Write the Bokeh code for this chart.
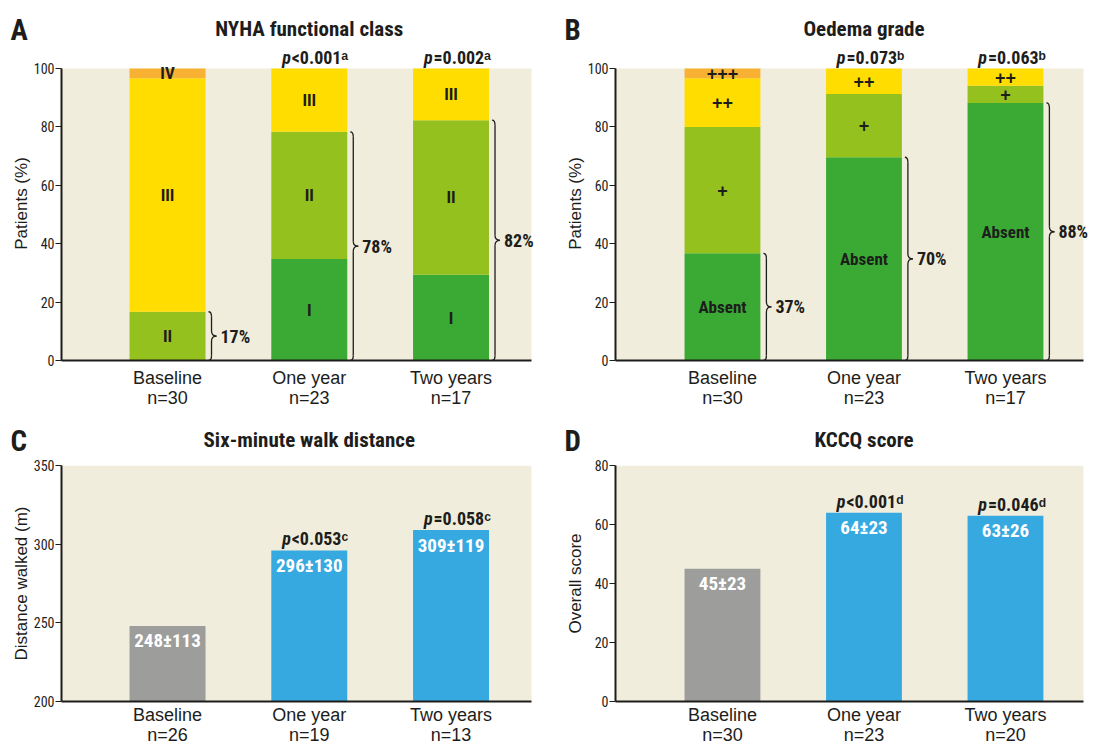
from bokeh.plotting import figure
from bokeh.layouts import column, row
from bokeh.models import ColumnDataSource, FixedTicker, Range1d
from bokeh.embed import file_html
from bokeh.resources import INLINE
from bokeh.core.properties import value

# ---------------- data ----------------
categories = ["Baseline", "One year", "Two years"]

nyha_n = [30, 23, 17]
nyha_I = [0.0, 34.8, 29.4]
nyha_II = [16.7, 43.5, 52.9]
nyha_III = [80.0, 21.7, 17.7]
nyha_IV = [3.3, 0.0, 0.0]
nyha_classes = ["I", "II", "III", "IV"]
nyha_p_sign = ["", "<", "="]
nyha_p_val = ["", "0.001", "0.002"]
nyha_p_note = ["", "\u1d43", "\u1d43"]          # superscript a

oedema_n = [30, 23, 17]
oed_absent = [36.7, 69.6, 88.2]
oed_plus1 = [43.3, 21.7, 5.9]
oed_plus2 = [16.7, 8.7, 5.9]
oed_plus3 = [3.3, 0.0, 0.0]
oedema_grades = ["Absent", "+", "++", "+++"]
oedema_p_sign = ["", "=", "="]
oedema_p_val = ["", "0.073", "0.063"]
oedema_p_note = ["", "\u1d47", "\u1d47"]        # superscript b

walk_n = [26, 19, 13]
walk_mean = [248, 296, 309]
walk_sd = [113, 130, 119]
walk_p_sign = ["", "<", "="]
walk_p_val = ["", "0.053", "0.058"]
walk_p_note = ["", "\u1d9c", "\u1d9c"]          # superscript c

kccq_n = [30, 23, 20]
kccq_mean = [45, 64, 63]
kccq_sd = [23, 23, 26]
kccq_p_sign = ["", "<", "="]
kccq_p_val = ["", "0.001", "0.046"]
kccq_p_note = ["", "\u1d48", "\u1d48"]          # superscript d

# ---------------- style ----------------
COND = "Roboto Condensed, Liberation Sans"
REG = "Liberation Sans"
INK = "#1d1d1b"
BG = "#f1eddc"
C_ORANGE = "#f8b133"
C_YELLOW = "#ffdd00"
C_LGREEN = "#95c11f"
C_DGREEN = "#3aaa35"
C_GRAY = "#9d9d9c"
C_BLUE = "#36a9e1"

X = [1, 2, 3]
BAR_W = 0.536

# ---------------- geometry (page pixels) ----------------
OX, OY = 2, 1
H_HEAD1, H_TOP, H_HEAD2, H_BOT = 46, 366, 45, 290
TOP_BT, TOP_BB = 0, 52
BOT_BT, BOT_BB = 8, 46
LEFT = dict(W=548, bl=61, ppx=141.75, x0=0.252, bgw=470)
RIGHT = dict(W=542, bl=67, ppx=141.5, x0=0.244, bgw=468)
TOP_DATA_PX = 292   # pixels for the 0-100 data area in top panels


def panel(geo, H, bt, bb, y0, ytop, yticks, ylabel, extra_top_px, lab_standoff):
    fw = geo["W"] - geo["bl"]
    fh = H - bt - bb
    ppx = geo["ppx"]
    ppy = (fh - extra_top_px) / (ytop - y0)
    xr = (geo["x0"], geo["x0"] + fw / ppx)
    yr = (y0, y0 + fh / ppy)
    bg_end = geo["x0"] + geo["bgw"] / ppx
    p = figure(width=geo["W"], height=H, x_range=Range1d(*xr), y_range=Range1d(*yr),
               output_backend="svg", toolbar_location=None,
               min_border_left=geo["bl"], min_border_right=0,
               min_border_top=bt, min_border_bottom=bb)
    p.background_fill_color = "white"
    p.border_fill_color = "white"
    p.outline_line_color = None
    p.xgrid.visible = False
    p.ygrid.visible = False
    p.quad(left=[xr[0]], right=[bg_end], bottom=[y0], top=[ytop], fill_color=BG,
           line_color=None)

    xa = p.xaxis[0]
    xa.ticker = FixedTicker(ticks=X)
    xa.bounds = (xr[0], bg_end)
    xa.major_tick_out = 0
    xa.major_tick_in = 0
    xa.minor_tick_out = 0
    xa.minor_tick_in = 0
    xa.axis_line_width = 2
    xa.axis_line_color = INK
    xa.major_label_text_font = REG
    xa.major_label_text_font_size = "18px"
    xa.major_label_text_color = INK
    xa.major_label_text_line_height = 1.0
    xa.major_label_standoff = lab_standoff

    ya = p.yaxis[0]
    ya.ticker = FixedTicker(ticks=yticks)
    ya.bounds = (y0, ytop)
    ya.major_tick_out = 6
    ya.major_tick_in = 0
    ya.minor_tick_out = 0
    ya.minor_tick_in = 0
    ya.axis_line_width = 2
    ya.axis_line_color = INK
    ya.major_tick_line_color = INK
    ya.major_tick_line_width = 1
    ya.major_label_text_font = COND
    ya.major_label_text_font_size = "14px"
    ya.major_label_text_color = INK
    ya.major_label_standoff = 1
    ya.axis_label = ylabel
    ya.axis_label_text_font = REG
    ya.axis_label_text_font_size = "17px"
    ya.axis_label_text_font_style = "normal"
    ya.axis_label_text_color = INK
    longest = max(len(str(t)) for t in yticks)
    ya.axis_label_standoff = max(0, int(round(28 - 7 - longest * 0.51 * 14)))

    p._ppx, p._ppy, p._xr, p._y0 = ppx, ppy, xr, y0
    return p


def set_xlabels(p, n):
    p.xaxis[0].major_label_overrides = {x: f"{c}\nn={k}" for x, c, k in zip(X, categories, n)}


def txt(p, xs, ys, ts, size, style="bold", color=INK, align="center", baseline="middle",
        font=COND):
    p.text(x=xs, y=ys, text=ts, text_font=value(font), text_font_style=style,
           text_font_size=value(size), text_color=color, text_align=align,
           text_baseline=baseline)


def pvalue(p, xc, ytop, sign, val, note):
    if not val:
        return
    split = -18.0                       # px from bar centre where "p" ends
    yc = ytop + 11.5 / p._ppy           # cap centre above the bar top
    txt(p, [xc + (split - 0.5) / p._ppx], [yc], ["p"], "18px", "bold italic", align="right")
    txt(p, [xc + (split + 0.5) / p._ppx], [yc], [sign + val + note], "18px", "bold",
        align="left")


def brace(p, xc, bottom, top, label):
    ppx, ppy = p._ppx, p._ppy
    x0 = xc + BAR_W / 2 + 3 / ppx
    w = 3 / ppx
    tip = 8 / ppx
    h = 5 / ppy
    m = (bottom + top) / 2
    q = dict(x0=[x0, x0 + w, x0 + tip, x0 + w],
             y0=[top, m + h, m, bottom + h],
             x1=[x0 + w, x0 + tip, x0 + w, x0],
             y1=[top - h, m, m - h, bottom],
             cx=[x0 + w] * 4,
             cy=[top, m, m, bottom])
    p.quadratic(source=ColumnDataSource(q), x0="x0", y0="y0", x1="x1", y1="y1",
                cx="cx", cy="cy", line_color=INK, line_width=1.3)
    p.segment(x0=[x0 + w, x0 + w], y0=[top - h, m - h], x1=[x0 + w, x0 + w],
              y1=[m + h, bottom + h], line_color=INK, line_width=1.3)
    txt(p, [x0 + tip + 4 / ppx], [m], [label], "18px", align="left")


def stacked(p, series, names, colors, sizes, fonts):
    data = {"x": X}
    for nm, s in zip(names, series):
        data[nm] = s
    p.vbar_stack(names, x="x", width=BAR_W, color=colors, line_color=None,
                 source=ColumnDataSource(data))
    for k, (nm, s, sz, fnt) in enumerate(zip(names, series, sizes, fonts)):
        base = [sum(ser[i] for ser in series[:k]) for i in range(len(X))]
        xs = [X[i] for i in range(len(X)) if s[i] > 0]
        ys = [base[i] + s[i] / 2 for i in range(len(X)) if s[i] > 0]
        txt(p, xs, ys, [nm] * len(xs), sz, font=fnt)


def mean_panel(p, means, sds, psign, pval, pnote):
    colors = [C_GRAY] + [C_BLUE] * (len(X) - 1)
    src = ColumnDataSource(dict(x=X, top=means, c=colors,
                                t=[f"{m}\u00b1{s}" for m, s in zip(means, sds)],
                                ty=[m - 15 / p._ppy for m in means]))
    p.vbar(x="x", top="top", bottom=p._y0, width=BAR_W, fill_color="c",
           line_color=None, source=src)
    p.text(x="x", y="ty", text="t", source=src, text_font=value(COND),
           text_font_style="bold", text_font_size=value("19px"), text_color="white",
           text_align="center", text_baseline="middle")
    for i in range(len(X)):
        pvalue(p, X[i], means[i], psign[i], pval[i], pnote[i])


TOP_EXTRA = H_TOP - TOP_BT - TOP_BB - TOP_DATA_PX

# ---------- A ----------
pA = panel(LEFT, H_TOP, TOP_BT, TOP_BB, 0, 100, [0, 20, 40, 60, 80, 100], "Patients (%)",
           TOP_EXTRA, 7)
set_xlabels(pA, nyha_n)
stacked(pA, [nyha_I, nyha_II, nyha_III, nyha_IV], nyha_classes,
        [C_DGREEN, C_LGREEN, C_YELLOW, C_ORANGE], ["17px"] * 4, [COND] * 4)
for i in range(3):
    tot = nyha_I[i] + nyha_II[i] + nyha_III[i] + nyha_IV[i]
    pvalue(pA, X[i], tot, nyha_p_sign[i], nyha_p_val[i], nyha_p_note[i])
    good = nyha_I[i] + nyha_II[i]
    brace(pA, X[i], 0, good, f"{round(good)}%")

# ---------- B ----------
pB = panel(RIGHT, H_TOP, TOP_BT, TOP_BB, 0, 100, [0, 20, 40, 60, 80, 100], "Patients (%)",
           TOP_EXTRA, 7)
set_xlabels(pB, oedema_n)
stacked(pB, [oed_absent, oed_plus1, oed_plus2, oed_plus3], oedema_grades,
        [C_DGREEN, C_LGREEN, C_YELLOW, C_ORANGE], ["17px", "18px", "18px", "18px"],
        [COND, REG, REG, REG])
for i in range(3):
    tot = oed_absent[i] + oed_plus1[i] + oed_plus2[i] + oed_plus3[i]
    pvalue(pB, X[i], tot, oedema_p_sign[i], oedema_p_val[i], oedema_p_note[i])
    brace(pB, X[i], 0, oed_absent[i], f"{round(oed_absent[i])}%")

# ---------- C ----------
pC = panel(LEFT, H_BOT, BOT_BT, BOT_BB, 200, 350, [200, 250, 300, 350],
           "Distance walked (m)", 0, 3)
set_xlabels(pC, walk_n)
mean_panel(pC, walk_mean, walk_sd, walk_p_sign, walk_p_val, walk_p_note)

# ---------- D ----------
pD = panel(RIGHT, H_BOT, BOT_BT, BOT_BB, 0, 80, [0, 20, 40, 60, 80], "Overall score", 0, 3)
set_xlabels(pD, kccq_n)
mean_panel(pD, kccq_mean, kccq_sd, kccq_p_sign, kccq_p_val, kccq_p_note)


# ---------- headers (letters + titles) ----------
def header(y_top_page, h, frame_top_page, gap, items):
    W = LEFT["W"] + RIGHT["W"]
    hf = figure(width=W, height=h, x_range=Range1d(OX, OX + W),
                y_range=Range1d(y_top_page + h, y_top_page), output_backend="svg",
                toolbar_location=None, x_axis_type=None, y_axis_type=None,
                min_border=0, min_border_left=0, min_border_right=0,
                min_border_top=0, min_border_bottom=0)
    hf.outline_line_color = None
    hf.grid.visible = False
    hf.background_fill_color = "white"
    hf.border_fill_color = "white"
    yc = frame_top_page - gap
    for letter, title, geo, x0_page in items:
        frame_left = x0_page + geo["bl"]
        xmid = frame_left + (sum(X) / len(X) - geo["x0"]) * geo["ppx"]
        txt(hf, [frame_left - 51], [yc + 1], [letter], "29px", align="left")
        txt(hf, [xmid], [yc], [title], "21px")
    return hf


top_frame_page = OY + H_HEAD1 + TOP_EXTRA
bot_y0 = OY + H_HEAD1 + H_TOP + H_HEAD2
h1 = header(OY, H_HEAD1, top_frame_page, 40, [("A", "NYHA functional class", LEFT, OX),
                                              ("B", "Oedema grade", RIGHT, OX + LEFT["W"])])
h2 = header(OY + H_HEAD1 + H_TOP, H_HEAD2, bot_y0 + BOT_BT, 26,
            [("C", "Six-minute walk distance", LEFT, OX),
             ("D", "KCCQ score", RIGHT, OX + LEFT["W"])])

layout = column(h1, row(pA, pB), h2, row(pC, pD))
open("out.html", "w").write(file_html(layout, INLINE))
